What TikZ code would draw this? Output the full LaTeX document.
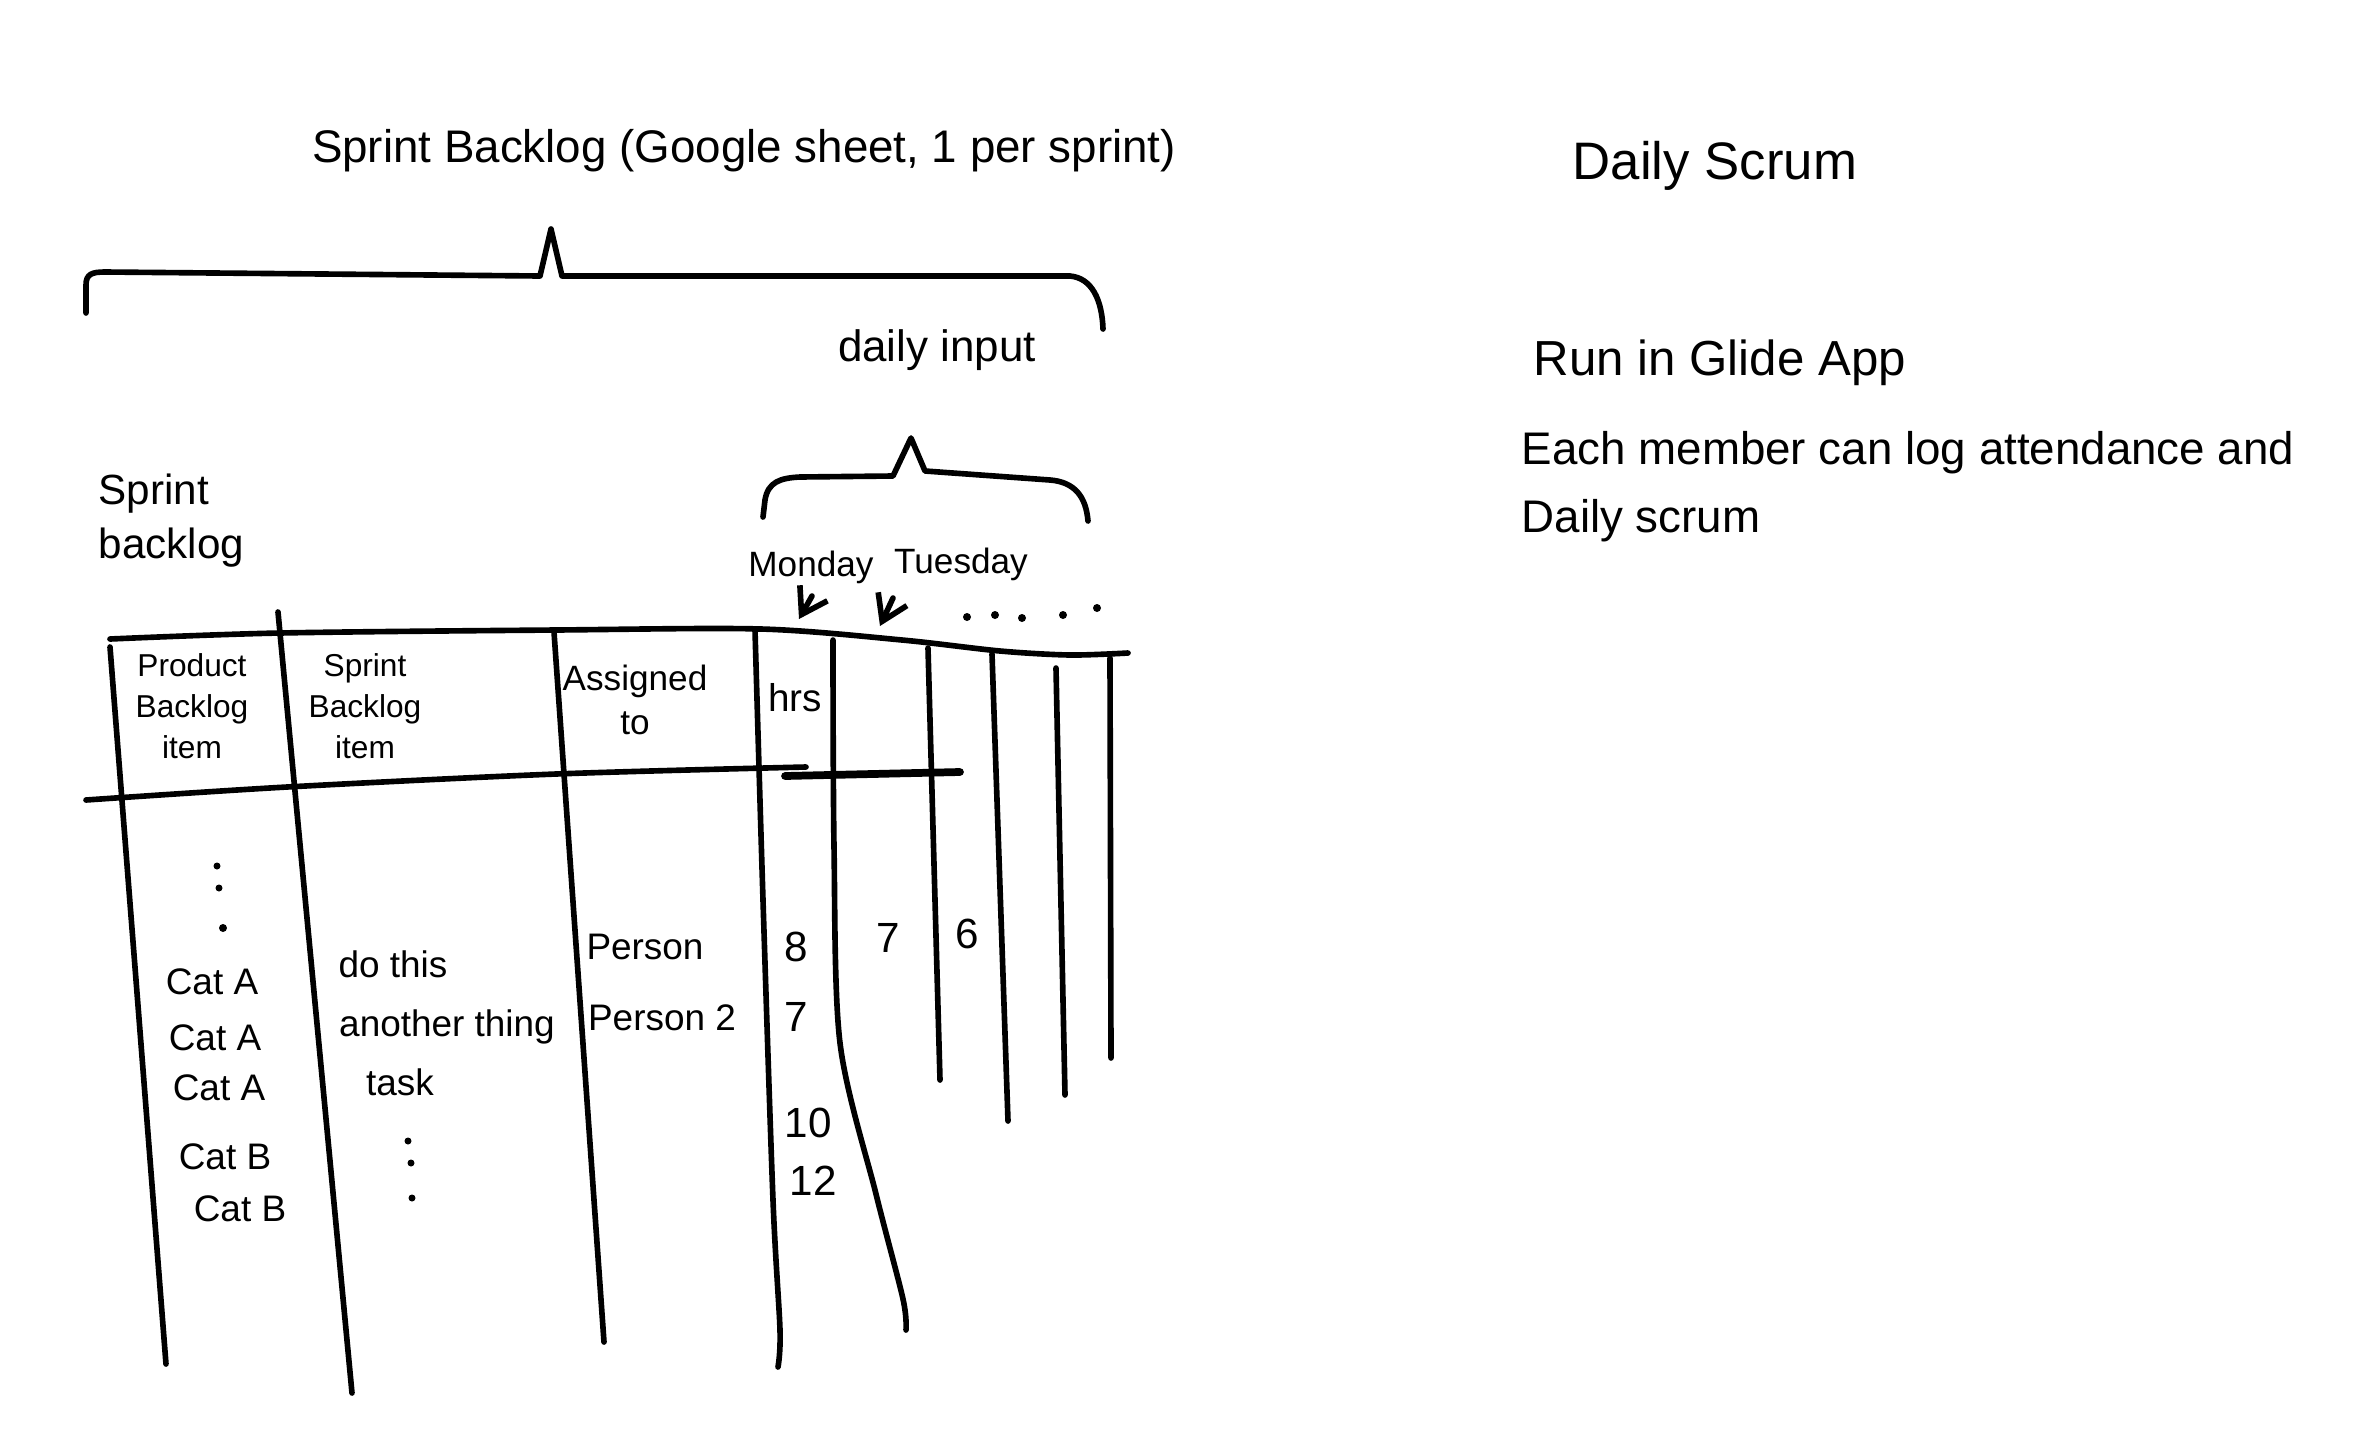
\documentclass[tikz,border=0pt]{standalone}
\usepackage{fontspec}
\setmainfont{Liberation Sans}
\usetikzlibrary{arrows.meta}
\begin{document}
\begin{tikzpicture}[x=0.01cm,y=-0.01cm,
  pen/.style={line width=1.6pt, line cap=round, line join=round},
  ink/.style={inner sep=0pt, text=black},
  big/.style={ink, font=\fontsize{13}{15}\selectfont},
  head/.style={ink, align=center, font=\fontsize{9}{11.7}\selectfont},
  cell/.style={ink, font=\fontsize{10.5}{12}\selectfont},
  dot/.style={fill=black}]
\useasboundingbox (0,0) rectangle (2369,1448);
\fill[white] (0,0) rectangle (2369,1448);

% ---- titles ----
\node[big] (title) at (744,151) {Sprint Backlog (Google sheet, 1 per sprint)};
\node[ink, font=\fontsize{15}{17}\selectfont] (daily) at (1715,166) {Daily Scrum};
\node[big, font=\fontsize{12.5}{14}\selectfont] (input) at (937,350) {daily input};
\node[ink, align=left, anchor=north west, font=\fontsize{12}{15.5}\selectfont] (sb) at (98,473) {Sprint\\backlog};

% ---- braces ----
\draw[pen] (86,313) -- (86,285) .. controls (86,274) and (92,272) .. (105,272)
  -- (540,276) -- (551,229) -- (562,276) -- (1070,276)
  .. controls (1092,278) and (1102,300) .. (1103,329);
\draw[pen] (763,517) -- (765,500) .. controls (768,482) and (780,478) .. (800,477)
  -- (893,476) -- (911,438) -- (925,471) -- (1050,480)
  .. controls (1075,482) and (1086,497) .. (1088,521);

% ---- day labels and arrows ----
\node[ink, font=\fontsize{10}{12}\selectfont] (mon) at (811,567) {Monday};
\node[ink, font=\fontsize{10}{12}\selectfont] (tue) at (961,564) {Tuesday};
\draw[pen, -{Straight Barb[length=7pt,width=9pt]}] (812,596) -- (799,619);
\draw[pen, -{Straight Barb[length=7pt,width=9pt]}] (893,598) -- (880,626);
\foreach \p in {(967,617),(995,615),(1022,618),(1063,615),(1097,608)}
  \fill[dot] \p circle (4);

% ---- table frame ----
\draw[pen] plot[smooth, tension=0.5] coordinates {(110,639) (280,633) (556,630) (761,629)
  (902,640) (1000,651) (1070,655) (1128,653)};
\draw[pen] plot[smooth, tension=0.5] coordinates {(86,800) (287,787) (556,774) (806,767)};
\draw[pen, line width=2.2pt] (785,776) -- (960,772);

\draw[pen] (110,647) -- (166,1364);
\draw[pen] (278,612) -- (352,1393);
\draw[pen] (554,632) -- (604,1342);
\draw[pen] plot[smooth] coordinates {(755,630) (763,900) (773,1200) (780,1330) (778,1367)};
\draw[pen] plot[smooth] coordinates {(833,640) (834,846) (840,1043) (876,1194) (903,1299) (906,1330)};
\draw[pen] (928,648) -- (940,1080);
\draw[pen] (992,654) -- (1008,1121);
\draw[pen] (1056,668) -- (1065,1095);
\draw[pen] (1110,658) -- (1111,1058);

% ---- header row ----
\node[head] (pbi) at (192,706) {Product\\Backlog\\item};
\node[head] (sbi) at (365,706) {Sprint\\Backlog\\item};
\node[head, font=\fontsize{10}{12.5}\selectfont] (asg) at (635,700) {Assigned\\to};
\node[head, font=\fontsize{11}{13}\selectfont] (hrs) at (795,698) {hrs};

% ---- rows ----
\fill[dot] (217,866) circle (3.5) (219,888) circle (3.5) (223,928) circle (4);
\node[cell] (c1) at (212,982) {Cat A};
\node[cell] (c2) at (215,1038) {Cat A};
\node[cell] (c3) at (219,1088) {Cat A};
\node[cell] (c4) at (225,1157) {Cat B};
\node[cell] (c5) at (240,1209) {Cat B};

\node[cell] (t1) at (393,964) {do this};
\node[cell] (t2) at (447,1027) {another thing};
\node[cell] (t3) at (400,1082) {task};
\fill[dot] (408,1141) circle (3.5) (411,1163) circle (3.5) (412,1198) circle (3.5);

\node[cell] (p1) at (645,947) {Person};
\node[cell] (p2) at (662,1018) {Person 2};

\node[cell, font=\fontsize{12}{14}\selectfont] (h1) at (796,947) {8};
\node[cell, font=\fontsize{12}{14}\selectfont] (h2) at (796,1017) {7};
\node[cell, font=\fontsize{12}{14}\selectfont] (h3) at (808,1123) {10};
\node[cell, font=\fontsize{12}{14}\selectfont] (h4) at (813,1181) {12};
\node[cell, font=\fontsize{12}{14}\selectfont] (d2) at (888,938) {7};
\node[cell, font=\fontsize{12}{14}\selectfont] (d3) at (967,934) {6};

% ---- daily scrum notes ----
\node[ink, anchor=west, font=\fontsize{14}{16}\selectfont] (run) at (1533,363) {Run in Glide App};
\node[ink, anchor=west, font=\fontsize{13}{15}\selectfont] (each) at (1521,453) {Each member can log attendance and};
\node[ink, anchor=west, font=\fontsize{13}{15}\selectfont] (ds) at (1521,521) {Daily scrum};
\end{tikzpicture}
\end{document}
